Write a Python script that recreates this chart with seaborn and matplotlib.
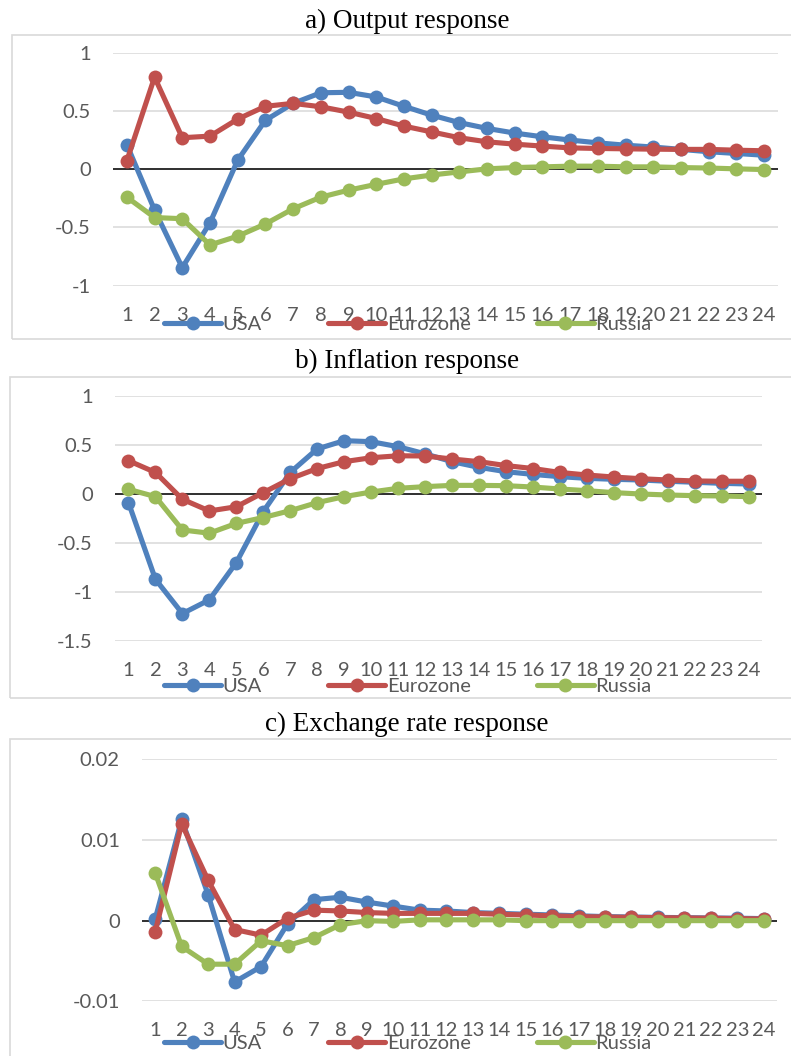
import matplotlib
matplotlib.use("Agg")
import matplotlib.pyplot as plt
import pandas as pd
import seaborn as sns
from matplotlib.lines import Line2D
from matplotlib.patches import Rectangle

sns.set_style("white")
plt.rcParams["font.family"] = ["Lato", "DejaVu Sans"]

W, H = 791, 1056

periods = list(range(1, 25))
countries = ["USA", "Eurozone", "Russia"]
colors = {"USA": "#4F81BD", "Eurozone": "#C0504D", "Russia": "#9BBB59"}

# a) Output response
output_usa = [0.21, -0.35, -0.845, -0.46, 0.077, 0.42, 0.565, 0.656, 0.66, 0.62,
              0.54, 0.464, 0.40, 0.35, 0.31, 0.278, 0.25, 0.226, 0.206, 0.19,
              0.17, 0.15, 0.135, 0.12]
output_euro = [0.072, 0.79, 0.27, 0.284, 0.43, 0.54, 0.565, 0.536, 0.49, 0.435,
               0.37, 0.32, 0.27, 0.235, 0.215, 0.198, 0.183, 0.178, 0.175, 0.172,
               0.17, 0.17, 0.163, 0.158]
output_russia = [-0.24, -0.415, -0.425, -0.65, -0.575, -0.47, -0.34, -0.24, -0.18, -0.13,
                 -0.083, -0.05, -0.023, 0.003, 0.014, 0.02, 0.026, 0.026, 0.02, 0.02,
                 0.014, 0.01, 0.003, -0.003]

# b) Inflation response
infl_usa = [-0.088, -0.87, -1.22, -1.08, -0.70, -0.18, 0.22, 0.46, 0.544, 0.534,
            0.483, 0.41, 0.33, 0.272, 0.228, 0.20, 0.177, 0.16, 0.15, 0.143,
            0.13, 0.12, 0.109, 0.102]
infl_euro = [0.34, 0.22, -0.054, -0.173, -0.13, 0.014, 0.156, 0.26, 0.33, 0.37,
             0.39, 0.388, 0.357, 0.33, 0.29, 0.26, 0.22, 0.194, 0.173, 0.156,
             0.143, 0.133, 0.13, 0.13]
infl_russia = [0.048, -0.027, -0.367, -0.40, -0.30, -0.24, -0.17, -0.088, -0.027, 0.02,
               0.058, 0.075, 0.088, 0.088, 0.085, 0.071, 0.051, 0.034, 0.014, 0.0,
               -0.01, -0.017, -0.02, -0.027]

# c) Exchange rate response
fx_usa = [0.0002, 0.01256, 0.0032, -0.0076, -0.0057, -0.0004, 0.0026, 0.0029, 0.0023, 0.0018,
          0.0013, 0.0012, 0.001, 0.0009, 0.0008, 0.0007, 0.0006, 0.0005, 0.00045, 0.0004,
          0.00037, 0.00033, 0.0003, 0.00025]
fx_euro = [-0.00136, 0.012, 0.005, -0.0011, -0.0018, 0.0003, 0.0013, 0.0012, 0.001, 0.0009,
           0.0009, 0.0009, 0.0009, 0.0008, 0.0007, 0.0006, 0.0005, 0.00045, 0.0004, 0.00037,
           0.00033, 0.0003, 0.00025, 0.0002]
fx_russia = [0.0059, -0.0032, -0.0054, -0.0054, -0.0025, -0.0031, -0.0021, -0.0005, 0.0, -0.0001,
             0.0001, 0.0001, 0.0001, 0.0001, 0.0, 0.0, 0.0, 0.0, 0.0, 0.0,
             0.0, 0.0, 0.0, 0.0]

panels = [
    dict(title="a) Output response", series=[output_usa, output_euro, output_russia],
         ax_px=(113, 778, 52.7, 285.7), ylim=(-1, 1), yticks=[-1, -0.5, 0, 0.5, 1],
         ylabels=["-1", "-0.5", "0", "0.5", "1"], title_y=21, box_y=(35, 339), box_x=12,
         legend_y=324),
    dict(title="b) Inflation response", series=[infl_usa, infl_euro, infl_russia],
         ax_px=(115, 762, 396, 641), ylim=(-1.5, 1), yticks=[-1.5, -1, -0.5, 0, 0.5, 1],
         ylabels=["-1.5", "-1", "-0.5", "0", "0.5", "1"], title_y=361, box_y=(377, 698),
         box_x=10, legend_y=686),
    dict(title="c) Exchange rate response", series=[fx_usa, fx_euro, fx_russia],
         ax_px=(142, 777, 759.3, 1001.3), ylim=(-0.01, 0.02), yticks=[-0.01, 0, 0.01, 0.02],
         ylabels=["-0.01", "0", "0.01", "0.02"], title_y=724, box_y=(739, 1070),
         box_x=10, legend_y=1043),
]

LW, MS = 3.7, 10

fig = plt.figure(figsize=(W / 100, H / 100), dpi=100)

for p in panels:
    # outer chart box
    by0, by1 = p["box_y"]
    fig.patches.append(Rectangle((p["box_x"] / W, 1 - by1 / H), (800 - p["box_x"]) / W,
                                 (by1 - by0) / H, transform=fig.transFigure,
                                 facecolor="none", edgecolor="#D9D9D9", linewidth=1.2))
    fig.text(407 / W, 1 - p["title_y"] / H, p["title"], ha="center", va="center",
             family=["Liberation Serif"], fontsize=19.5, color="black")

    x0, x1, y0, y1 = p["ax_px"]
    ax = fig.add_axes([x0 / W, 1 - y1 / H, (x1 - x0) / W, (y1 - y0) / H])
    df = pd.DataFrame({
        "period": periods * 3,
        "value": sum(p["series"], []),
        "country": sum([[c] * len(periods) for c in countries], []),
    })
    ax.axhline(0, color="black", linewidth=1.1, zorder=1)
    sns.lineplot(data=df, x="period", y="value", hue="country", hue_order=countries,
                 palette=colors, marker="o", markersize=MS, markeredgewidth=0,
                 linewidth=LW, legend=False, ax=ax, zorder=3, clip_on=False)
    ax.set_xlim(0.5, 24.5)
    ax.set_ylim(*p["ylim"])
    ax.set_xticks(periods)
    ax.set_xticklabels([str(i) for i in periods])
    ax.set_yticks(p["yticks"])
    ax.set_yticklabels(p["ylabels"])
    ax.set_xlabel("")
    ax.set_ylabel("")
    ax.yaxis.grid(True, color="#D9D9D9", linewidth=1.1, zorder=0)
    ax.xaxis.grid(False)
    ax.set_axisbelow(True)
    for s in ax.spines.values():
        s.set_visible(False)
    ax.tick_params(axis="both", length=0, labelsize=14.5, labelcolor="#595959")
    ax.tick_params(axis="y", pad=16)
    ax.tick_params(axis="x", pad=15)
    ax.patch.set_alpha(0)

    handles = [Line2D([], [], color=colors[c], linewidth=LW, marker="o", markersize=MS,
                      markeredgewidth=0) for c in countries]
    fig.legend(handles, countries, loc="center", bbox_to_anchor=(408 / W, 1 - p["legend_y"] / H),
               ncol=3, frameon=False, handlelength=2.8, handletextpad=0.1,
               columnspacing=3.3, fontsize=14.5, labelcolor="#595959")

fig.savefig("out.png", dpi=100)
